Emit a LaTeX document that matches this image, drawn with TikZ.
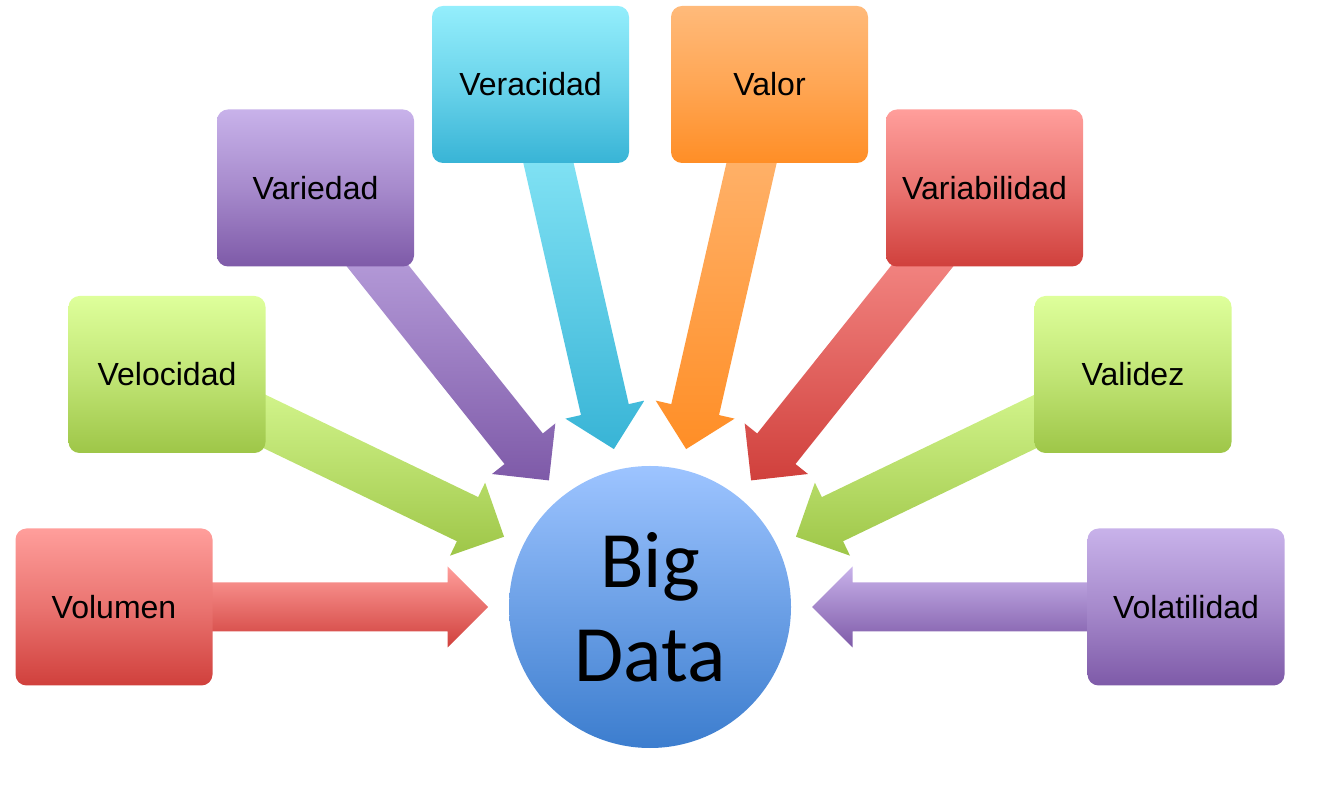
\documentclass[tikz,border=0pt]{standalone}
\usepackage{fontspec}
\setmainfont{Liberation Sans}
\newfontfamily\calibrifont{Carlito}
\usetikzlibrary{calc}
\pgfdeclarelayer{bg}
\pgfsetlayers{bg,main}
\definecolor{redT}{RGB}{255,158,155}
\definecolor{redB}{RGB}{208,64,60}
\definecolor{grnT}{RGB}{222,255,155}
\definecolor{grnB}{RGB}{158,198,72}
\definecolor{purT}{RGB}{200,178,234}
\definecolor{purB}{RGB}{126,90,168}
\definecolor{cyaT}{RGB}{148,238,252}
\definecolor{cyaB}{RGB}{56,180,214}
\definecolor{oraT}{RGB}{255,186,122}
\definecolor{oraB}{RGB}{255,142,38}
\definecolor{bluT}{RGB}{157,196,255}
\definecolor{bluB}{RGB}{60,125,206}
\tikzset{
  vbox/.style={rectangle, rounded corners=11pt, minimum width=197pt, minimum height=157pt,
    inner sep=0pt, font=\fontsize{32}{38}\selectfont},
  redbox/.style={vbox, top color=redT, bottom color=redB, middle color=redT!55!redB},
  grnbox/.style={vbox, top color=grnT, bottom color=grnB, middle color=grnT!55!grnB},
  purbox/.style={vbox, top color=purT, bottom color=purB, middle color=purT!55!purB},
  cyabox/.style={vbox, top color=cyaT, bottom color=cyaB, middle color=cyaT!55!cyaB},
  orabox/.style={vbox, top color=oraT, bottom color=oraB, middle color=oraT!55!oraB},
  hub/.style={circle, minimum size=282pt, inner sep=0pt, top color=bluT, bottom color=bluB,
    align=center, font=\calibrifont\fontsize{80}{94}\selectfont}
}
\newcommand\blockarrow[4]{%
  \coordinate (T) at ($(#2.center)!162pt!(#1.center)$);
  \coordinate (H) at ($(#2.center)!202.5pt!(#1.center)$);
  \shade[top color=#3, bottom color=#4]
    (T) -- ($(H)!40.5pt!90:(#1.center)$) -- ($(H)!24.5pt!90:(#1.center)$)
    -- ($(#1.center)!24.5pt!-90:(H)$) -- ($(#1.center)!24.5pt!90:(H)$)
    -- ($(H)!24.5pt!-90:(#1.center)$) -- ($(H)!40.5pt!-90:(#1.center)$) -- cycle;
}
\begin{document}
\begin{tikzpicture}[x=1pt,y=1pt]
\useasboundingbox (0,0) rectangle (1338,787);
\node[hub] (bd) at (650,180) {Big\\Data};
\node[redbox] (vol)  at (114,180)    {Volumen};
\node[grnbox] (vel)  at (167,412.5)  {Velocidad};
\node[purbox] (var)  at (315.5,599)  {Variedad};
\node[cyabox] (ver)  at (530.5,702.5){Veracidad};
\node[orabox] (valo) at (769.5,702.5){Valor};
\node[redbox] (vari) at (984.5,599)  {Variabilidad};
\node[grnbox] (vali) at (1133,412.5) {Validez};
\node[purbox] (vola) at (1186,180)   {Volatilidad};
\begin{pgfonlayer}{bg}
\blockarrow{vol}{bd}{redT}{redB}
\blockarrow{vel}{bd}{grnT}{grnB}
\blockarrow{var}{bd}{purT}{purB}
\blockarrow{ver}{bd}{cyaT}{cyaB}
\blockarrow{valo}{bd}{oraT}{oraB}
\blockarrow{vari}{bd}{redT}{redB}
\blockarrow{vali}{bd}{grnT}{grnB}
\blockarrow{vola}{bd}{purT}{purB}
\end{pgfonlayer}
\end{tikzpicture}
\end{document}
